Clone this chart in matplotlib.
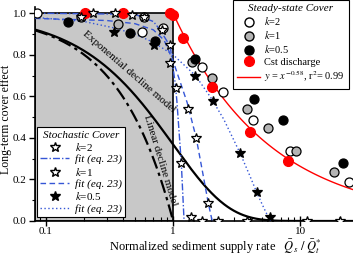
import matplotlib
matplotlib.use("Agg")
import matplotlib.pyplot as plt
from matplotlib.lines import Line2D
from matplotlib.patches import Rectangle
import numpy as np

plt.rcParams["font.family"] = ["Liberation Serif", "DejaVu Serif"]
plt.rcParams["mathtext.fontset"] = "stix"

BLUE = "#3556d6"

# steady-state cover (circles)
ss_k2_x = [0.085, 0.59, 0.57, 0.83, 1.69, 2.48, 4.27, 8.3, 24.3]
ss_k2_y = [1.0, 0.98, 0.91, 0.93, 0.74, 0.62, 0.486, 0.337, 0.187]
ss_k1_x = [0.19, 0.37, 1.41, 2.03, 3.83, 5.6, 9.3, 18.5]
ss_k1_y = [0.98, 0.95, 0.765, 0.687, 0.538, 0.45, 0.337, 0.236]
ss_k05_x = [0.149, 0.46, 0.72, 1.49, 4.34, 7.35, 21.8]
ss_k05_y = [0.957, 0.904, 0.865, 0.779, 0.587, 0.486, 0.279]
cst_x = [0.203, 0.404, 0.947, 1.0, 1.2, 2.03, 4.04, 8.06]
cst_y = [1.0, 1.0, 1.0, 0.99, 0.88, 0.644, 0.428, 0.288]
power_exp = -0.58

# stochastic cover (stars)
st_k2_x = [0.234, 0.35, 0.82, 0.947, 1.056, 1.156, 1.39, 1.69, 2.26, 3.83, 11.4, 20.6]
st_k2_y = [1.0, 1.0, 0.92, 0.846, 0.64, 0.28, 0.02, 0.0, 0.0, 0.0, 0.0, 0.0]
st_k1_x = [0.19, 0.475, 0.59, 0.947, 1.31, 1.52, 1.89]
st_k1_y = [0.98, 0.99, 0.98, 0.76, 0.54, 0.40, 0.087]
st_k05_x = [0.34, 0.71, 1.49, 2.07, 3.37, 4.58, 5.8]
st_k05_y = [0.91, 0.846, 0.70, 0.577, 0.327, 0.14, 0.02]

# fits (eq. 23)
fit_k2_x = [0.082, 0.5, 0.7, 0.79, 0.95, 1.04, 1.07, 1.16, 1.22]
fit_k2_y = [1.0, 0.995, 0.96, 0.92, 0.84, 0.66, 0.58, 0.28, 0.0]
fit_k1_x = [0.082, 0.3, 0.5, 0.7, 0.85, 1.0, 1.18, 1.29, 1.52, 1.7, 1.89, 2.03]
fit_k1_y = [0.975, 0.965, 0.95, 0.92, 0.87, 0.77, 0.64, 0.57, 0.40, 0.24, 0.087, 0.0]
fit_k05_x = [0.082, 0.2, 0.34, 0.5, 0.7, 1.0, 1.5, 2.0, 2.5, 3.0, 3.4, 4.0, 4.6, 5.2, 5.8]
fit_k05_y = [0.98, 0.96, 0.93, 0.9, 0.86, 0.8, 0.7, 0.59, 0.49, 0.39, 0.32, 0.22, 0.13, 0.06, 0.0]

x_min, x_max = 0.082, 26.0

fig = plt.figure(figsize=(3.53, 2.58), dpi=100)
ax = fig.add_axes([35 / 353, 1 - 221 / 258, 1 - 35 / 353, (221 - 7) / 258])
ax.set_xscale("log")
ax.set_xlim(x_min, x_max)
ax.set_ylim(0, 1.03)

ax.add_patch(Rectangle((x_min, 0), 1 - x_min, 1.0, facecolor="#c8c8c8",
                       edgecolor="black", lw=1.2, zorder=0))

# decline models
xm = np.logspace(np.log10(x_min), np.log10(x_max), 300)
ax.plot(xm, np.exp(-xm), color="black", lw=1.6, zorder=2)
xl = np.linspace(x_min, 1.0, 50)
ax.plot(xl, 1 - xl, color="black", lw=1.6, ls=(0, (6, 2, 1.5, 2)), zorder=2)

# red power law
xr = np.logspace(0, np.log10(x_max), 100)
ax.plot(xr, xr ** power_exp, color="red", lw=1.0, zorder=3)

# fits
ax.plot(fit_k2_x, fit_k2_y, color=BLUE, lw=1.0, ls=(0, (5, 1.5, 1, 1.5)), zorder=3)
ax.plot(fit_k1_x, fit_k1_y, color=BLUE, lw=1.0, ls=(0, (4, 2.5)), zorder=3)
ax.plot(fit_k05_x, fit_k05_y, color=BLUE, lw=1.0, ls=(0, (1, 1.8)), zorder=3)

ms_c = 6.5
ax.plot(ss_k2_x, ss_k2_y, "o", ms=ms_c, mfc="white", mec="black", mew=0.9, zorder=4)
ax.plot(ss_k1_x, ss_k1_y, "o", ms=ms_c, mfc="#b4b4b4", mec="black", mew=0.9, zorder=4)
ax.plot(ss_k05_x, ss_k05_y, "o", ms=ms_c, mfc="black", mec="black", mew=0.9, zorder=4)
ax.plot(cst_x, cst_y, "o", ms=ms_c + 0.5, mfc="red", mec="red", zorder=5)

ms_s = 7.5
ax.plot(st_k2_x, st_k2_y, "*", ms=ms_s, mfc="white", mec="black", mew=0.9, zorder=6)
ax.plot(st_k1_x, st_k1_y, "*", ms=ms_s, mfc="white", mec="black", mew=0.9, zorder=6)
ax.plot(st_k05_x, st_k05_y, "*", ms=ms_s, mfc="black", mec="black", mew=0.9, zorder=6)

ax.text(0.45, 0.72, "Exponential decline model", rotation=-41, fontsize=8,
        ha="center", va="center", rotation_mode="anchor", zorder=7)
ax.text(0.79, 0.29, "Linear decline model", rotation=-73, fontsize=8,
        ha="center", va="center", rotation_mode="anchor", zorder=7)

for side in ("top", "right"):
    ax.spines[side].set_visible(False)
for side in ("left", "bottom"):
    ax.spines[side].set_linewidth(1.2)
ax.set_xticks([0.1, 1, 10])
ax.set_xticklabels(["0.1", "1", "10"])
ax.set_yticks([0.0, 0.2, 0.4, 0.6, 0.8, 1.0])
ax.set_yticks(np.arange(0.1, 1.0, 0.2), minor=True)
ax.tick_params(axis="x", which="major", direction="inout", length=7, width=1.0,
               labelsize=8, pad=1)
ax.tick_params(axis="x", which="minor", direction="in", length=3, width=0.8)
ax.tick_params(axis="y", which="major", direction="out", length=4, width=1.0,
               labelsize=8, pad=2)
ax.tick_params(axis="y", which="minor", direction="out", length=2, width=0.8)

ax.set_ylabel("Long-term cover effect", fontsize=8.5)
ax.yaxis.set_label_coords(-0.072, 0.477)
ax.set_xlabel(r"Normalized sediment supply rate   $\bar{Q}_s\ /\ \bar{Q}_t^{*}$",
              fontsize=9)
ax.xaxis.set_label_coords(0.566, -0.075)

# left legend
h_left = [
    Line2D([], [], ls="none", marker="*", ms=ms_s, mfc="white", mec="black"),
    Line2D([], [], color=BLUE, lw=1.0, ls=(0, (5, 1.5, 1, 1.5))),
    Line2D([], [], ls="none", marker="*", ms=ms_s, mfc="white", mec="black"),
    Line2D([], [], color=BLUE, lw=1.0, ls=(0, (4, 2.5))),
    Line2D([], [], ls="none", marker="*", ms=ms_s, mfc="black", mec="black"),
    Line2D([], [], color=BLUE, lw=1.0, ls=(0, (1, 1.8))),
]
l_left = ["$k$=2", "fit (eq. 23)", "$k$=1", "fit (eq. 23)", "$k$=0.5", "fit (eq. 23)"]
leg1 = ax.legend(h_left, l_left, loc="lower left", bbox_to_anchor=(37 / 353, 1 - 217 / 258),
                 bbox_transform=fig.transFigure, fontsize=8, title="Stochastic Cover",
                 title_fontsize=8, frameon=True, fancybox=False, borderaxespad=0,
                 handlelength=2.6, labelspacing=0.12, borderpad=0.3, handletextpad=0.5)
leg1.get_title().set_fontstyle("italic")
leg1.get_frame().set_edgecolor("black")
leg1.get_frame().set_linewidth(0.8)
leg1.get_frame().set_alpha(1)
for t in leg1.get_texts():
    if t.get_text().startswith("fit"):
        t.set_fontstyle("italic")
ax.add_artist(leg1)

h_right = [
    Line2D([], [], ls="none", marker="o", ms=ms_c, mfc="white", mec="black"),
    Line2D([], [], ls="none", marker="o", ms=ms_c, mfc="#b4b4b4", mec="black"),
    Line2D([], [], ls="none", marker="o", ms=ms_c, mfc="black", mec="black"),
    Line2D([], [], ls="none", marker="o", ms=ms_c + 0.5, mfc="red", mec="red"),
    Line2D([], [], color="red", lw=1.0),
]
l_right = ["$k$=2", "$k$=1", "$k$=0.5", "Cst discharge",
           "$y$ = $x^{%.2f}$, r$^2$= 0.99" % power_exp]
leg2 = ax.legend(h_right, l_right, loc="upper left", bbox_to_anchor=(233 / 353, 1.0),
                 bbox_transform=fig.transFigure, fontsize=7.5, title="Steady-state Cover",
                 title_fontsize=8, frameon=True, fancybox=False, borderaxespad=0,
                 handlelength=2.2, labelspacing=0.2, borderpad=0.4, handletextpad=0.4)
leg2.get_title().set_fontstyle("italic")
leg2.get_frame().set_edgecolor("black")
leg2.get_frame().set_linewidth(0.8)
leg2.get_frame().set_alpha(1)

fig.savefig("out.png", dpi=100)
plt.close(fig)
